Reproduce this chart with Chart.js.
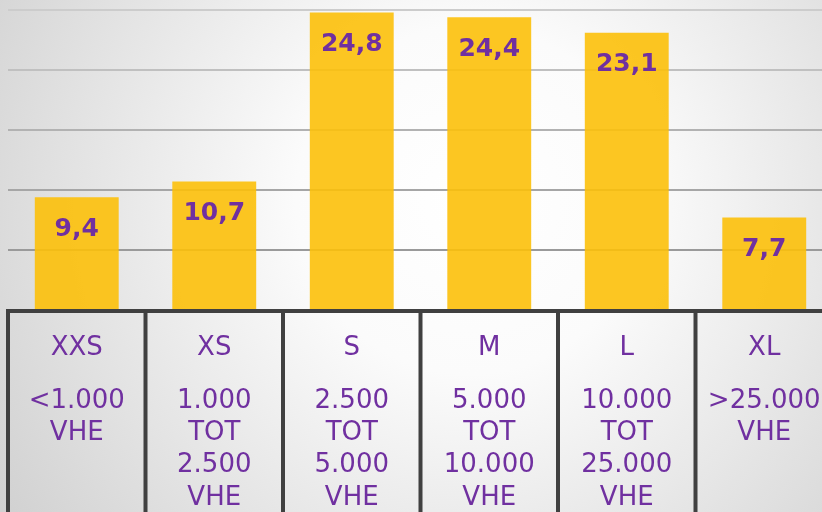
<!DOCTYPE html>
<html>
<head>
<meta charset="utf-8">
<script src="https://cdn.jsdelivr.net/npm/chart.js@4"></script>
<style>
  html, body { margin: 0; padding: 0; overflow: hidden; background: #e0e0e0; }
  #wrap { width: 822px; height: 512px; overflow: hidden; position: relative; }
  canvas { display: block; }
</style>
</head>
<body>
<div id="wrap"><canvas id="c" width="840" height="512"></canvas></div>
<script>
// ---- data ----
const categories = ['XXS', 'XS', 'S', 'M', 'L', 'XL'];
const values = [9.4, 10.7, 24.8, 24.4, 23.1, 7.7];
const valueLabels = ['9,4', '10,7', '24,8', '24,4', '23,1', '7,7'];
const sizeRanges = [
  ['<1.000', 'VHE'],
  ['1.000', 'TOT', '2.500', 'VHE'],
  ['2.500', 'TOT', '5.000', 'VHE'],
  ['5.000', 'TOT', '10.000', 'VHE'],
  ['10.000', 'TOT', '25.000', 'VHE'],
  ['>25.000', 'VHE']
];
const gridValues = [5, 10, 15, 20, 25];

const PURPLE = '#7030A0';
const BORDER = '#404040';

const bgPlugin = {
  id: 'bg',
  beforeDraw(chart) {
    const ctx = chart.ctx;
    const g = ctx.createRadialGradient(470, 200, 0, 470, 200, 580);
    g.addColorStop(0, '#ffffff');
    g.addColorStop(0.3, '#fbfbfb');
    g.addColorStop(1, '#cfcfcf');
    ctx.save();
    ctx.fillStyle = g;
    ctx.fillRect(0, 0, chart.width, chart.height);
    ctx.restore();
  }
};

const tablePlugin = {
  id: 'table',
  afterDatasetsDraw(chart) {
    const ctx = chart.ctx;
    const area = chart.chartArea;
    const xs = chart.scales.x;
    const meta = chart.getDatasetMeta(0);
    ctx.save();
    // value labels inside bars
    ctx.font = 'bold 25px "DejaVu Sans"';
    ctx.fillStyle = PURPLE;
    ctx.textAlign = 'center';
    ctx.textBaseline = 'middle';
    meta.data.forEach((bar, i) => {
      ctx.fillText(valueLabels[i], bar.x, bar.y + 32);
    });
    // table borders
    ctx.strokeStyle = BORDER;
    ctx.lineWidth = 4;
    const bottom = area.bottom;
    ctx.beginPath();
    ctx.moveTo(area.left - 2, bottom + 1);
    ctx.lineTo(area.right + 2, bottom + 1);
    for (let i = 0; i <= categories.length; i++) {
      let x;
      if (i < categories.length) {
        x = xs.getPixelForValue(i) - (xs.getPixelForValue(1) - xs.getPixelForValue(0)) / 2;
      } else {
        x = area.right;
      }
      ctx.moveTo(x, bottom - 1);
      ctx.lineTo(x, chart.height);
    }
    ctx.stroke();
    // table text
    ctx.font = '26px "DejaVu Sans"';
    ctx.fillStyle = PURPLE;
    categories.forEach((name, i) => {
      const x = xs.getPixelForValue(i);
      ctx.fillText(name, x, bottom + 38);
      sizeRanges[i].forEach((line, j) => {
        ctx.fillText(line, x, bottom + 91 + j * 32.3);
      });
    });
    ctx.restore();
  }
};

const gridColors = { 5: '#9a9a9a', 10: '#a6a6a6', 15: '#b2b2b2', 20: '#c0c0c0', 25: '#cccccc' };

new Chart(document.getElementById('c'), {
  type: 'bar',
  data: {
    labels: categories,
    datasets: [{
      data: values,
      backgroundColor: 'rgba(252,192,10,0.9)',
      borderWidth: 0,
      categoryPercentage: 1,
      barPercentage: 0.61
    }]
  },
  options: {
    responsive: false,
    animation: false,
    devicePixelRatio: 1,
    layout: { padding: { left: 8, right: 7, top: 0, bottom: 202 } },
    plugins: { legend: { display: false }, tooltip: { enabled: false } },
    scales: {
      x: { display: false },
      y: {
        min: 0,
        max: 310 / 12,
        afterBuildTicks(scale) {
          scale.ticks = gridValues.map(v => ({ value: v }));
        },
        ticks: { display: false },
        border: { display: false },
        grid: {
          drawTicks: false,
          lineWidth: 2,
          color: (c) => gridColors[c.tick && c.tick.value] || 'transparent'
        }
      }
    }
  },
  plugins: [bgPlugin, tablePlugin]
});
</script>
</body>
</html>
